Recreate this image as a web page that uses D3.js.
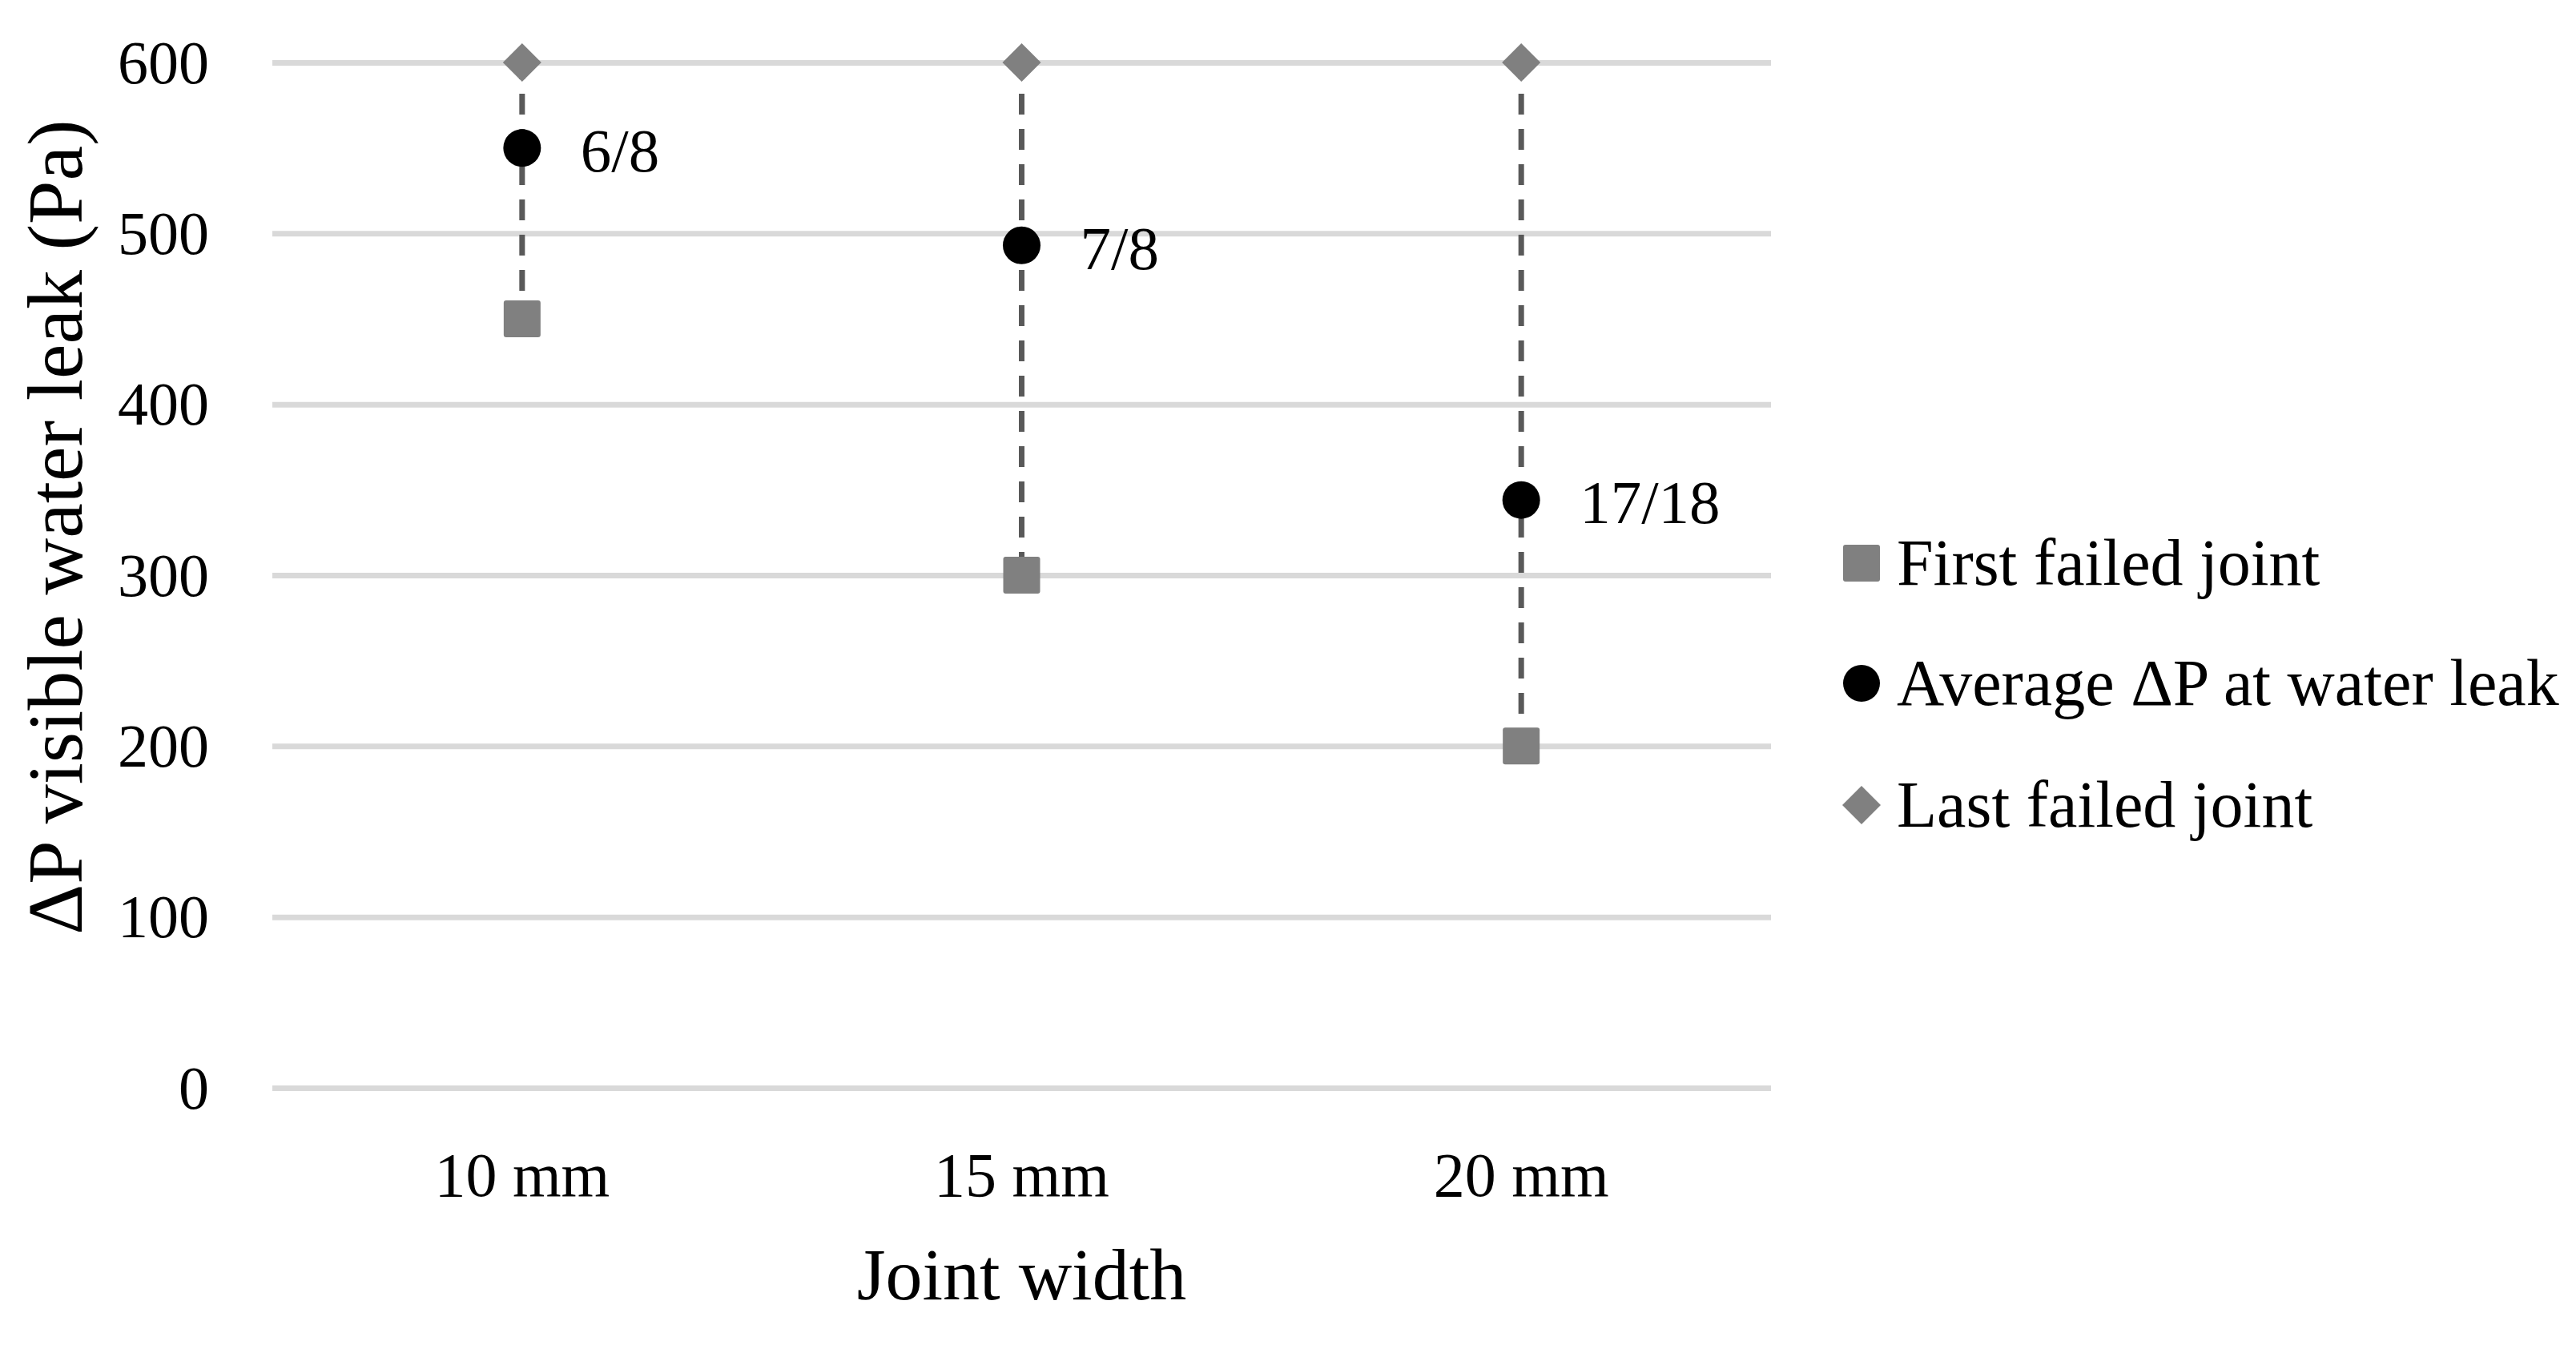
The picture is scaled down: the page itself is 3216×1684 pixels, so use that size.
<!DOCTYPE html>
<html>
<head>
<meta charset="utf-8">
<script src="https://cdn.jsdelivr.net/npm/d3@7"></script>
<style>
  html, body { margin: 0; padding: 0; background: #ffffff; }
  svg { display: block; }
  text { font-family: "Palatino Linotype", "Book Antiqua", Palatino, "Liberation Serif", serif; fill: #000; }
</style>
</head>
<body>
<svg id="chart" width="3216" height="1684"></svg>
<script>
// ---- Data ----
const categories = ["10 mm", "15 mm", "20 mm"];
const firstFailed = [450, 300, 200];
const averageLeak = [550, 493, 344];
const lastFailed = [600, 600, 600];
const ratioLabels = ["6/8", "7/8", "17/18"];
const yTicks = [0, 100, 200, 300, 400, 500, 600];
const seriesNames = ["First failed joint", "Average \u0394P at water leak", "Last failed joint"];
const yTitle = "\u0394P visible water leak (Pa)";
const xTitle = "Joint width";

// ---- Layout ----
const W = 3216, H = 1684;
const plot = { left: 340, right: 2211, top: 78, bottom: 1358 };
const grey = "#808080", dark = "#595959", gridCol = "#d9d9d9";
const markerSize = 47;
const fontFam = '"Palatino Linotype", "Book Antiqua", Palatino, "Liberation Serif", serif';

const svg = d3.select("#chart");
svg.append("rect").attr("width", W).attr("height", H).attr("fill", "#fff");

const x = d3.scaleBand().domain(categories).range([plot.left, plot.right]).padding(0);
const y = d3.scaleLinear().domain([0, 600]).range([plot.bottom, plot.top]);
const cx = c => x(c) + x.bandwidth() / 2;

// Y axis with gridlines
const yAxis = svg.append("g")
  .attr("transform", `translate(${plot.left},0)`)
  .call(d3.axisLeft(y).tickValues(yTicks).tickSize(-(plot.right - plot.left)).tickPadding(79).tickFormat(d3.format("d")));
yAxis.select(".domain").remove();
yAxis.selectAll(".tick line").attr("stroke", gridCol).attr("stroke-width", 7);
yAxis.selectAll(".tick text").attr("font-size", 76).attr("dy", "0.33em").style("font-family", fontFam);

// X axis labels
const xAxis = svg.append("g")
  .attr("transform", `translate(0,${plot.bottom})`)
  .call(d3.axisBottom(x).tickSize(0).tickPadding(80));
xAxis.select(".domain").remove();
xAxis.selectAll(".tick text").attr("font-size", 78).style("font-family", fontFam);

// Axis titles
svg.append("text")
  .attr("x", (plot.left + plot.right) / 2).attr("y", 1622)
  .attr("text-anchor", "middle").attr("font-size", 92).text(xTitle);
svg.append("text")
  .attr("transform", `translate(102,658) rotate(-90)`)
  .attr("text-anchor", "middle").attr("font-size", 98).text(yTitle);

// Dashed high-low lines
const rows = categories.map((c, i) => ({ c, first: firstFailed[i], avg: averageLeak[i], last: lastFailed[i], lab: ratioLabels[i] }));
svg.append("g").selectAll("line").data(rows).join("line")
  .attr("x1", d => cx(d.c)).attr("x2", d => cx(d.c))
  .attr("y1", d => y(d.last)).attr("y2", d => y(d.first))
  .attr("stroke", dark).attr("stroke-width", 7)
  .attr("stroke-dasharray", "26,18").attr("stroke-dashoffset", 5);

// Marker symbols
const sqPath = s => { const h = s / 2, r = 3; return `M${-h + r},${-h}H${h - r}Q${h},${-h} ${h},${-h + r}V${h - r}Q${h},${h} ${h - r},${h}H${-h + r}Q${-h},${h} ${-h},${h - r}V${-h + r}Q${-h},${-h} ${-h + r},${-h}Z`; };
const diaPath = s => { const h = s / 2; return `M0,${-h}L${h},0L0,${h}L${-h},0Z`; };

svg.append("g").selectAll("path").data(rows).join("path")
  .attr("transform", d => `translate(${cx(d.c)},${y(d.first)})`)
  .attr("d", sqPath(markerSize - 1)).attr("fill", grey);
svg.append("g").selectAll("path").data(rows).join("path")
  .attr("transform", d => `translate(${cx(d.c)},${y(d.last)})`)
  .attr("d", diaPath(markerSize + 1)).attr("fill", grey);
svg.append("g").selectAll("circle").data(rows).join("circle")
  .attr("cx", d => cx(d.c)).attr("cy", d => y(d.avg)).attr("r", markerSize / 2)
  .attr("fill", "#000");

// Data labels
svg.append("g").selectAll("text").data(rows).join("text")
  .attr("x", d => cx(d.c) + 73).attr("y", d => y(d.avg)).attr("dy", "0.38em")
  .attr("font-size", 77).text(d => d.lab);

// Legend
const legY = [703, 853, 1005];
const leg = svg.append("g");
const legMarkerX = 2324, legTextX = 2368;
leg.append("path").attr("transform", `translate(${legMarkerX},${legY[0]})`).attr("d", sqPath(46)).attr("fill", grey);
leg.append("circle").attr("cx", legMarkerX).attr("cy", legY[1]).attr("r", 23).attr("fill", "#000");
leg.append("path").attr("transform", `translate(${legMarkerX},${legY[2]})`).attr("d", diaPath(48)).attr("fill", grey);
leg.selectAll("text").data(seriesNames).join("text")
  .attr("x", legTextX).attr("y", (d, i) => legY[i]).attr("dy", "0.33em")
  .attr("font-size", 82).text(d => d);
</script>
</body>
</html>
